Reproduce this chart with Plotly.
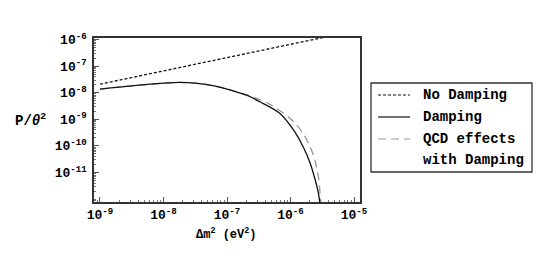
import plotly.graph_objects as go

# ---- data ----
nodamp_dm2 = [1e-9, 1e-5]
nodamp_p = [2.1e-8, 2.1e-6]

damp_dm2 = [1e-9, 3.16e-9, 1e-8, 1.78e-8, 3.16e-8, 6.3e-8, 1.26e-7, 2.04e-7, 3.3e-7,
            6.76e-7, 1.1e-6, 1.58e-6, 2.04e-6, 2.45e-6, 2.75e-6, 2.95e-6]
damp_p = [1.38e-8, 1.82e-8, 2.29e-8, 2.45e-8, 2.29e-8, 1.82e-8, 1.17e-8, 8.1e-9, 4.57e-9,
          1.7e-9, 4.17e-10, 9.3e-11, 2.24e-11, 5.2e-12, 1.66e-12, 5e-13]

qcd_dm2 = [1e-9, 3.16e-9, 1e-8, 1.78e-8, 3.16e-8, 6.3e-8, 1.26e-7, 2.04e-7, 4.47e-7,
           9.8e-7, 1.58e-6, 2.29e-6, 2.75e-6, 2.98e-6, 3.09e-6]
qcd_p = [1.38e-8, 1.82e-8, 2.29e-8, 2.45e-8, 2.29e-8, 1.82e-8, 1.17e-8, 8.3e-9, 3.98e-9,
         1.1e-9, 2.95e-10, 4.57e-11, 6.9e-12, 9.3e-13, 4e-13]

x_tickvals = [1e-9, 1e-8, 1e-7, 1e-6, 1e-5]
x_ticktext = ["10<sup>-9</sup>", "10<sup>-8</sup>", "10<sup>-7</sup>", "10<sup>-6</sup>", "10<sup>-5</sup>"]
y_tickvals = [1e-11, 1e-10, 1e-9, 1e-8, 1e-7, 1e-6]
y_ticktext = ["10<sup>-11</sup>", "10<sup>-10</sup>", "10<sup>-9</sup>", "10<sup>-8</sup>",
              "10<sup>-7</sup>", "10<sup>-6</sup>"]

legend_names = ["No Damping", "Damping", "QCD effects", "with Damping"]

FONT = "Liberation Mono"

fig = go.Figure()
fig.add_trace(go.Scatter(x=nodamp_dm2, y=nodamp_p, mode="lines",
                         line=dict(color="#111111", width=1.3, dash="3px,2px"),
                         showlegend=False))
fig.add_trace(go.Scatter(x=qcd_dm2, y=qcd_p, mode="lines",
                         line=dict(color="#999999", width=1.3, dash="8px,5px",
                                   shape="spline", smoothing=0.8),
                         showlegend=False))
fig.add_trace(go.Scatter(x=damp_dm2, y=damp_p, mode="lines",
                         line=dict(color="#111111", width=1.3, shape="spline", smoothing=0.8),
                         showlegend=False))

axis_common = dict(
    showline=True, linecolor="#333333", linewidth=1.5, mirror=True,
    ticks="inside", ticklen=5, tickcolor="#555555", tickwidth=1,
    showgrid=False, zeroline=False, automargin=False,
    tickfont=dict(family=FONT, size=13, color="black", weight="bold"),
    minor=dict(ticks="inside", ticklen=2.5, tickcolor="#777777", dtick="D1", showgrid=False),
)

fig.update_xaxes(type="log", range=[-9.094, -4.906], tickmode="array",
                 tickvals=x_tickvals, ticktext=x_ticktext, **axis_common)
fig.update_yaxes(type="log", range=[-12.11, -5.94], tickmode="array",
                 tickvals=y_tickvals, ticktext=y_ticktext, ticklabelstandoff=3, **axis_common)

L, R, T, B = 94, 360, 38, 202
W, H = 545, 273

def px(xp):
    return (xp - L) / (R - L)

def py(yp):
    return (B - yp) / (B - T)

shapes = [
    dict(type="rect", xref="paper", yref="paper", x0=px(371), x1=px(532), y0=py(172), y1=py(83),
         line=dict(color="#333333", width=1.3), fillcolor="white", layer="above"),
    dict(type="line", xref="paper", yref="paper", x0=px(378), x1=px(410), y0=py(95), y1=py(95),
         line=dict(color="#111111", width=1.2, dash="3px,2px")),
    dict(type="line", xref="paper", yref="paper", x0=px(378), x1=px(410), y0=py(117), y1=py(117),
         line=dict(color="#111111", width=1.2)),
    dict(type="line", xref="paper", yref="paper", x0=px(378), x1=px(410), y0=py(139), y1=py(139),
         line=dict(color="#999999", width=1.2, dash="8px,5px")),
]

annotations = []
for name, yy in zip(legend_names, [95, 117, 139, 160]):
    annotations.append(dict(text=name, xref="paper", yref="paper", x=px(421), y=py(yy),
                            xanchor="left", yanchor="middle", showarrow=False,
                            font=dict(family=FONT, size=14, color="black", weight="bold")))

annotations.append(dict(text="P/<i>θ</i><sup>2</sup>", xref="paper", yref="paper",
                        x=px(30), y=py(120), xanchor="center", yanchor="middle", showarrow=False,
                        font=dict(family=FONT, size=14, color="black", weight="bold")))
annotations.append(dict(text="Δm<sup>2</sup> (eV<sup>2</sup>)", xref="paper", yref="paper",
                        x=px(226), y=py(234), xanchor="center", yanchor="middle", showarrow=False,
                        font=dict(family=FONT, size=12, color="black", weight="bold")))

fig.update_layout(
    template="none",
    width=W, height=H,
    margin=dict(l=L, r=W - R, t=T, b=H - B, pad=0, autoexpand=False),
    paper_bgcolor="white", plot_bgcolor="white",
    font=dict(family=FONT, color="black"),
    shapes=shapes, annotations=annotations, showlegend=False,
)

fig.write_html("out.html", config={"displayModeBar": False},
               post_script="document.body.style.margin='0';document.body.style.overflow='hidden';")
